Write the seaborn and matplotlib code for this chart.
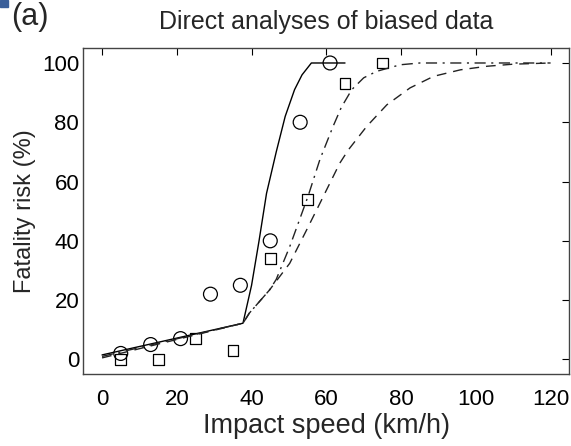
import numpy as np
import pandas as pd
import matplotlib
matplotlib.use("Agg")
import matplotlib.pyplot as plt
import seaborn as sns
from matplotlib.patches import Rectangle

sns.set_style("white")
plt.rcParams['font.family'] = ['Liberation Sans', 'DejaVu Sans']

# observed fatality risk (%)
circle_speed = [5, 13, 21, 29, 37, 45, 53, 61]
circle_risk = [2, 5, 7, 22, 25, 40, 80, 100]
square_speed = [5, 15, 25, 35, 45, 55, 65, 75]
square_risk = [0, 0, 7, 3, 34, 54, 93, 100]

# fitted curves
solid_speed = [0, 37.7, 40, 42, 44, 46.6, 49, 51.5, 53.5, 56, 65]
solid_risk = [1.5, 12.2, 25, 40, 56, 70, 82, 91, 96, 100, 100]
dashdot_speed = [0, 37.7, 39.4, 44.8, 46.6, 50.2, 55.1, 58.3, 61.8, 64, 66.8, 70,
                 73.5, 79.8, 85, 120]
dashdot_risk = [1, 12.2, 15.6, 23.4, 27, 38, 55, 67.5, 78.6, 85, 91, 95,
                97.2, 99.4, 100, 100]
dashed_speed = [0, 37.7, 39.4, 44.8, 50.2, 54.7, 58.3, 63.6, 65.9, 70.8, 76.2,
                82.4, 88.7, 95.9, 103, 110, 120]
dashed_risk = [0.5, 12.2, 15.6, 23.4, 32.4, 43.6, 52.7, 66.2, 70.7, 78.6, 85.9,
               91.6, 95.5, 97.7, 98.9, 99.6, 100]

fig = plt.figure(figsize=(5.71, 4.46), dpi=100)
ax = fig.add_axes([0.146, 0.161, 0.851, 0.731])

sns.lineplot(x=solid_speed, y=solid_risk, ax=ax, color='black', lw=1.0, sort=False)
sns.lineplot(x=dashdot_speed, y=dashdot_risk, ax=ax, color='#222222', lw=1.0, sort=False,
             linestyle=(0, (8, 4, 1.5, 4)))
sns.lineplot(x=dashed_speed, y=dashed_risk, ax=ax, color='#222222', lw=1.0, sort=False,
             linestyle=(0, (7, 5)))
sns.scatterplot(x=circle_speed, y=circle_risk, ax=ax, marker='o', s=100,
                facecolors='none', edgecolor='black', linewidth=0.9)
sns.scatterplot(x=square_speed, y=square_risk, ax=ax, marker='s', s=60,
                facecolors='none', edgecolor='black', linewidth=0.9)

ax.set_xlim(-5, 125)
ax.set_ylim(-5, 105)
ax.set_xticks(range(0, 121, 20))
ax.set_yticks(range(0, 101, 20))
ax.tick_params(direction='in', top=True, right=True, length=5, width=0.8,
               labelsize=16, colors='black')
ax.tick_params(axis='x', pad=11)
ax.tick_params(axis='y', pad=3)
for sp in ax.spines.values():
    sp.set_color('#444444')
    sp.set_linewidth(1.0)

ax.set_xlabel('Impact speed (km/h)', fontsize=19.5, labelpad=2)
ax.set_ylabel('Fatality risk (%)', fontsize=17, labelpad=4)
ax.set_title('Direct analyses of biased data', fontsize=18, pad=14)
fig.text(0.02, 0.995, '(a)', fontsize=22, va='top', ha='left')
fig.patches.append(Rectangle((0, 0.985), 0.014, 0.015, transform=fig.transFigure,
                             color='#3a5f9a', zorder=5))

fig.savefig('out.png', dpi=100)
